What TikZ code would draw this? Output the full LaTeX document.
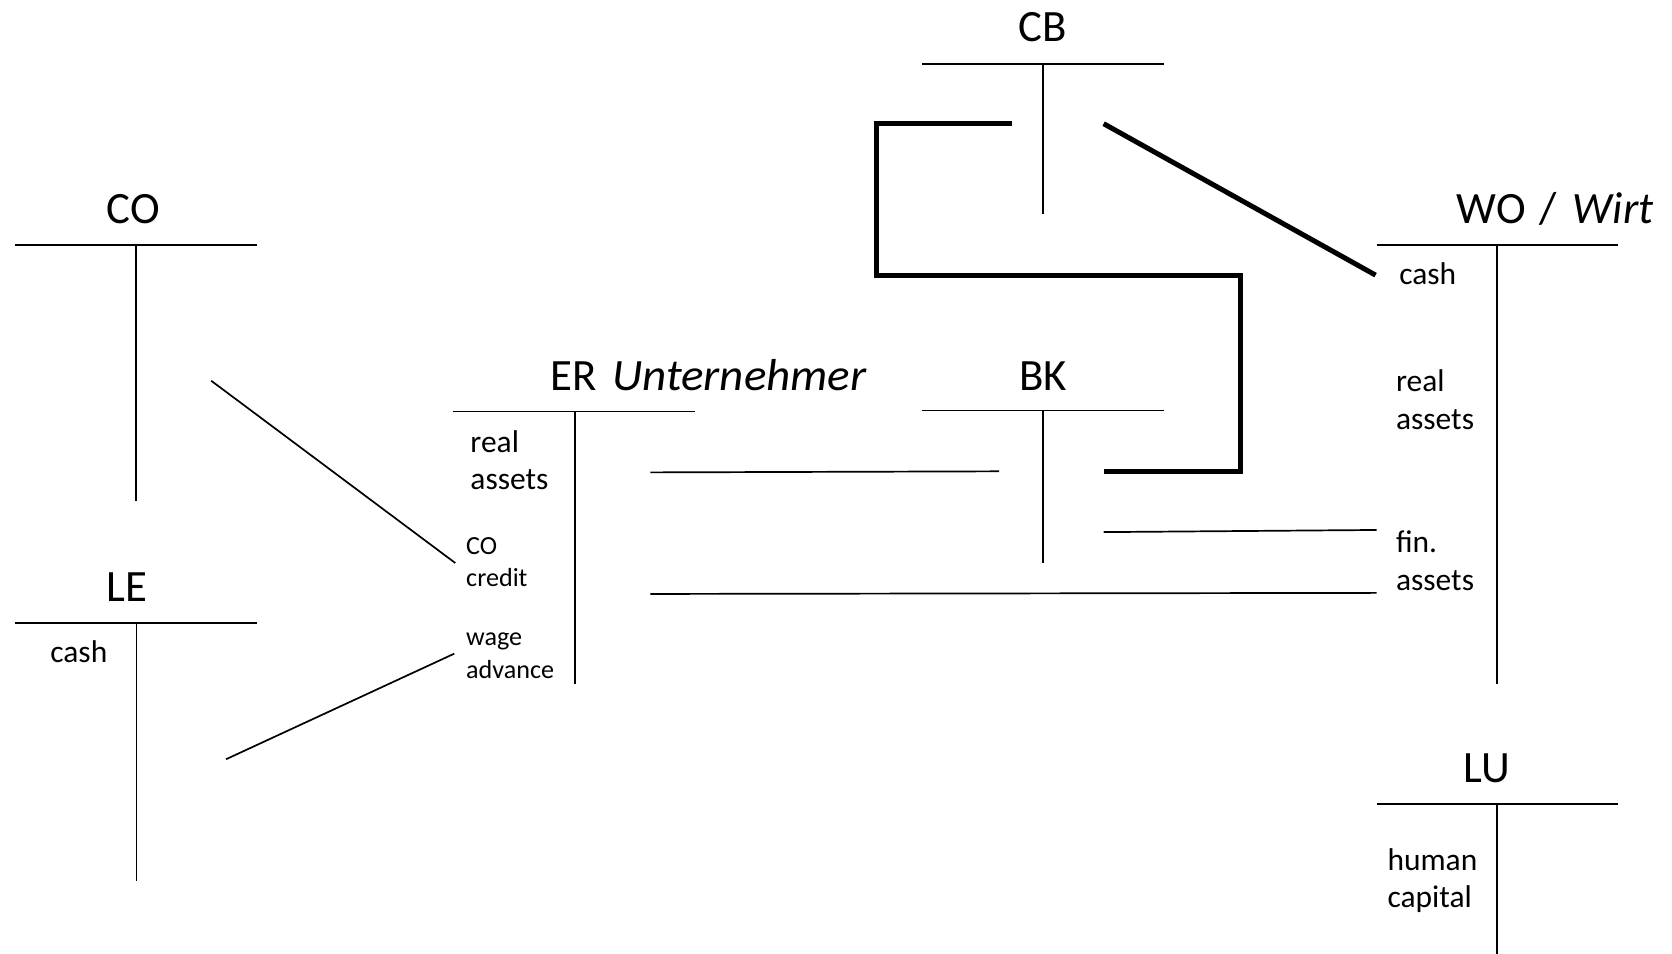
\documentclass[tikz,border=0pt]{standalone}
\usepackage{fontspec}
\setmainfont{Carlito}
\newfontfamily\itwide{Carlito}[FakeStretch=1.05]
\begin{document}
\begin{tikzpicture}[x=1pt,y=-1pt,
  acct/.style={line width=1.6pt},
  link/.style={line width=1.6pt},
  boldlink/.style={line width=4.7pt, line join=miter, line cap=butt},
  title/.style={font=\fontsize{42}{50}\selectfont, inner sep=0pt, anchor=base},
  lbl/.style={font=\fontsize{29.5}{36}\selectfont, inner sep=0pt, anchor=base west},
  small/.style={font=\fontsize{24.5}{30}\selectfont, inner sep=0pt, anchor=base west}]
\useasboundingbox (0,0) rectangle (1568,894.6);

% ---- titles ----
\node[title] (tCO) at (125,210) {CO};
\node[title] (tLE) at (119,564) {LE};
\node[title, anchor=base west] (tER) at (516,366) {ER\hspace{5pt} {\itwide\itshape Unternehmer}};
\node[title] (tBK) at (978,366) {BK};
\node[title] (tCB) at (978,39) {CB};
\node[title, anchor=base west] (tWO) at (1366,210) {WO\hspace{3pt} /\hspace{6pt} \textit{Wirt}};
\node[title] (tLU) at (1394,734) {LU};

% ---- T-accounts ----
\draw[acct] (14,230) -- (241,230) (127.5,230) -- (127.5,470);   % CO
\draw[acct] (14,584) -- (241,584) (128,584) -- (128,826);       % LE
\draw[acct] (425,386) -- (652,386) (539,386) -- (539,641);      % ER
\draw[acct] (865,60) -- (1092,60) (978,60) -- (978,201);        % CB
\draw[acct] (865,385) -- (1092,385) (978,385) -- (978,528);     % BK
\draw[acct] (1291,230) -- (1517,230) (1404,230) -- (1404,641);  % WO
\draw[acct] (1291,754) -- (1517,754) (1404,754) -- (1404,895);  % LU

% ---- labels ----
\node[lbl] (leCash) at (47,621) {cash};
\node[lbl] (erReal) at (441,424) {real};
\node[lbl] (erAssets) at (441,459) {assets};
\node[small] (erCO) at (437,520) {CO};
\node[small] (erCredit) at (437,550) {credit};
\node[small] (erWage) at (437,605) {wage};
\node[small] (erAdvance) at (437,636) {advance};
\node[lbl] (woCash) at (1312,267) {cash};
\node[lbl] (woReal) at (1309,367) {real};
\node[lbl] (woAssets) at (1309,403) {assets};
\node[lbl] (woFin) at (1309,518) {fin.};
\node[lbl] (woFinAssets) at (1309,554) {assets};
\node[lbl] (luHuman) at (1301,816) {human};
\node[lbl] (luCapital) at (1301,851) {capital};

% ---- connector end points ----
\coordinate (coOut) at (198,357);
\coordinate (erCoIn) at (427,528);
\coordinate (leOut) at (212,712);
\coordinate (erWageIn) at (426,613);
\coordinate (erRealOut) at (610,443);
\coordinate (bkLeftIn) at (937,442);
\coordinate (bkRightOut) at (1035,499);
\coordinate (woFinIn) at (1291,497);
\coordinate (erFinOut) at (610,557);
\coordinate (woFinIn2) at (1291,556);
\coordinate (cbLeft) at (949,116);
\coordinate (cbRight) at (1035,116);
\coordinate (bkRight) at (1035,442);
\coordinate (woCashIn) at (1290,258);

% ---- connectors ----
\draw[link] (coOut) -- (erCoIn);
\draw[link] (leOut) -- (erWageIn);
\draw[link] (erRealOut) -- (bkLeftIn);
\draw[link] (bkRightOut) -- (woFinIn);
\draw[link] (erFinOut) -- (woFinIn2);
\draw[boldlink] (cbLeft) -- (822,116) -- (822,258) -- (1163,258) -- (1163,442) -- (bkRight);
\draw[boldlink] (cbRight) -- (woCashIn);
\end{tikzpicture}
\end{document}
